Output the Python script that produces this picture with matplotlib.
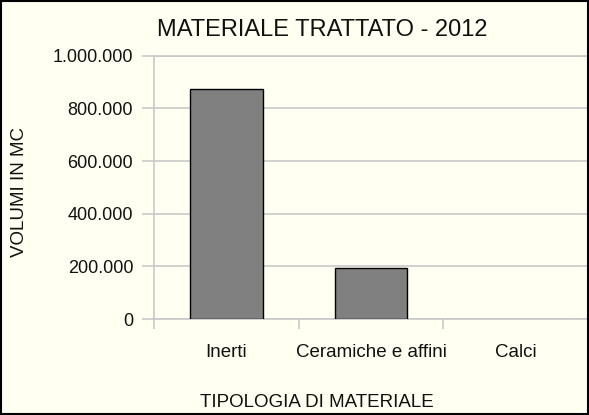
import matplotlib.pyplot as plt
from matplotlib.ticker import FuncFormatter, FixedLocator
from matplotlib.patches import Rectangle

plt.rcParams['font.family'] = ['Liberation Sans', 'DejaVu Sans']

categorie = ["Inerti", "Ceramiche e affini", "Calci"]
volumi = [873000, 193000, 0]
y_ticks = [0, 200000, 400000, 600000, 800000, 1000000]

bg = "#fffff2"
grid_col = "#c8c8c8"
txt = "#111111"

fig = plt.figure(figsize=(5.89, 4.15), dpi=100, facecolor=bg)
ax = fig.add_axes([154 / 589, 96 / 415, 434 / 589, 263.3 / 415], facecolor=bg)

x = list(range(len(categorie)))
# niente bordo per le barre a zero
lw = [1 if v > 0 else 0 for v in volumi]
ax.bar(x, volumi, width=0.5, color="#808080", edgecolor="black", linewidth=lw, zorder=3)

ax.set_xlim(-0.5, len(categorie) - 0.5)
ax.set_ylim(0, 1000000)
ax.set_yticks(y_ticks)
ax.yaxis.set_major_formatter(FuncFormatter(lambda v, p: f"{int(v):,}".replace(",", ".")))
ax.yaxis.grid(True, color=grid_col, linewidth=1.2, zorder=0)

# tacche ai confini delle categorie, etichette al centro
ax.xaxis.set_major_locator(FixedLocator([i - 0.5 for i in range(len(categorie) + 1)]))
ax.xaxis.set_minor_locator(FixedLocator(x))
ax.set_xticklabels([])
ax.set_xticklabels(categorie, minor=True)
ax.tick_params(axis="x", which="major", length=7.5, width=1.2, color=grid_col)
ax.tick_params(axis="x", which="minor", length=0, pad=18, labelsize=13.5, labelcolor=txt)
ax.tick_params(axis="y", length=9, width=1.2, color=grid_col, pad=6, labelsize=13, labelcolor=txt)

for s in ax.spines.values():
    s.set_color(grid_col)
    s.set_linewidth(1.2)

fig.text(322.5 / 589, 1 - 30 / 415, "MATERIALE TRATTATO - 2012", ha="center", va="center",
         fontsize=17, color=txt)
fig.text(316.7 / 589, 1 - 402 / 415, "TIPOLOGIA DI MATERIALE", ha="center", va="center",
         fontsize=13.5, color=txt)
fig.text(20 / 589, 1 - 192 / 415, "VOLUMI IN MC", ha="center", va="center", rotation=90,
         fontsize=13.5, color=txt)

fig.patches.append(Rectangle((0.002, 0.003), 0.996, 0.994, transform=fig.transFigure,
                             fill=False, edgecolor="black", linewidth=1.5))

fig.savefig("out.png", dpi=100, facecolor=bg)
